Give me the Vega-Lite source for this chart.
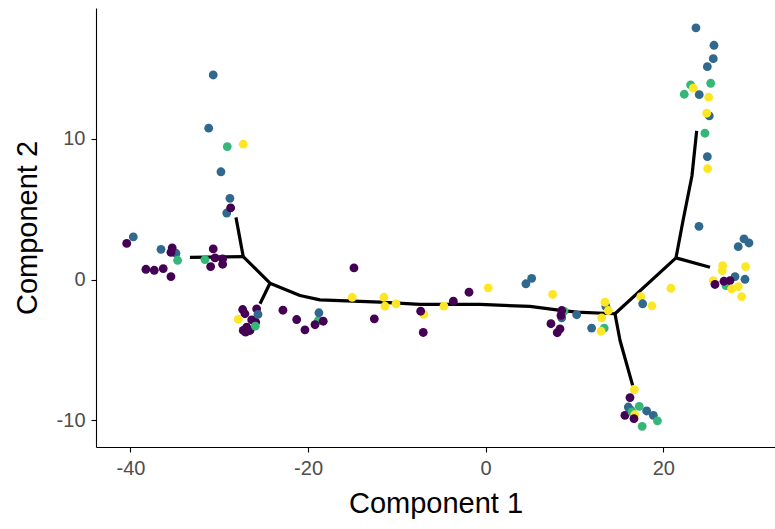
{
  "$schema": "https://vega.github.io/schema/vega-lite/v6.json",
  "autosize": {"type": "none"},
  "width": 679,
  "height": 439,
  "padding": {"left": 96, "top": 8, "right": 0, "bottom": 82},
  "config": {
    "view": {"stroke": null},
    "font": "Liberation Sans",
    "axis": {
      "grid": false,
      "domainColor": "#000000",
      "domainWidth": 1.1,
      "tickColor": "#000000",
      "tickWidth": 1.1,
      "tickSize": 5,
      "labelColor": "#4D4D4D",
      "labelFontSize": 20,
      "labelFont": "Liberation Sans",
      "titleFont": "Liberation Sans",
      "titleFontSize": 29,
      "titleFontWeight": "normal",
      "titleColor": "#000000",
      "labelExpr": "replace(datum.label, '−', '-')"
    }
  },
  "datasets": {
    "tree": [
      {"seg": "s1", "ord": 1, "x": -33.3, "y": 1.58},
      {"seg": "s1", "ord": 2, "x": -27.3, "y": 1.63},
      {"seg": "s2", "ord": 1, "x": -27.3, "y": 1.63},
      {"seg": "s2", "ord": 2, "x": -28.12, "y": 4.42},
      {"seg": "s3", "ord": 1, "x": -27.3, "y": 1.63},
      {"seg": "s3", "ord": 2, "x": -24.29, "y": -0.26},
      {"seg": "s3", "ord": 3, "x": -20.91, "y": -1.13},
      {"seg": "s3", "ord": 4, "x": -18.66, "y": -1.44},
      {"seg": "s3", "ord": 5, "x": -11.9, "y": -1.61},
      {"seg": "s3", "ord": 6, "x": -7.39, "y": -1.77},
      {"seg": "s3", "ord": 7, "x": -0.64, "y": -1.77},
      {"seg": "s3", "ord": 8, "x": 4.99, "y": -1.91},
      {"seg": "s3", "ord": 9, "x": 7.99, "y": -2.15},
      {"seg": "s3", "ord": 10, "x": 10.25, "y": -2.32},
      {"seg": "s3", "ord": 11, "x": 14.56, "y": -2.43},
      {"seg": "s3", "ord": 12, "x": 21.43, "y": 1.54},
      {"seg": "s4", "ord": 1, "x": -24.29, "y": -0.26},
      {"seg": "s4", "ord": 2, "x": -25.41, "y": -1.72},
      {"seg": "s5", "ord": 1, "x": 14.56, "y": -2.43},
      {"seg": "s5", "ord": 2, "x": 15.13, "y": -4.33},
      {"seg": "s5", "ord": 3, "x": 16.55, "y": -7.52},
      {"seg": "s6", "ord": 1, "x": 21.43, "y": 1.54},
      {"seg": "s6", "ord": 2, "x": 25.26, "y": 0.87},
      {"seg": "s7", "ord": 1, "x": 21.43, "y": 1.54},
      {"seg": "s7", "ord": 2, "x": 22.22, "y": 4.18},
      {"seg": "s7", "ord": 3, "x": 23.23, "y": 7.38},
      {"seg": "s7", "ord": 4, "x": 23.76, "y": 10.57}
    ],
    "cells": [
      {"x": -30.68, "y": 14.54, "s": "3"},
      {"x": -31.19, "y": 10.76, "s": "3"},
      {"x": -29.1, "y": 9.45, "s": "2"},
      {"x": -27.3, "y": 9.62, "s": "1"},
      {"x": -29.81, "y": 7.66, "s": "3"},
      {"x": -28.8, "y": 5.77, "s": "3"},
      {"x": -29.16, "y": 4.73, "s": "3"},
      {"x": -28.72, "y": 5.09, "s": "4"},
      {"x": -39.68, "y": 3.03, "s": "3"},
      {"x": -40.42, "y": 2.57, "s": "4"},
      {"x": -36.56, "y": 2.15, "s": "3"},
      {"x": -34.88, "y": 1.87, "s": "3"},
      {"x": -35.3, "y": 2.25, "s": "4"},
      {"x": -35.44, "y": 1.94, "s": "4"},
      {"x": -34.69, "y": 1.37, "s": "2"},
      {"x": -38.26, "y": 0.73, "s": "4"},
      {"x": -37.32, "y": 0.66, "s": "4"},
      {"x": -36.31, "y": 0.78, "s": "4"},
      {"x": -35.44, "y": 0.21, "s": "4"},
      {"x": -30.68, "y": 2.18, "s": "4"},
      {"x": -31.61, "y": 1.42, "s": "2"},
      {"x": -30.48, "y": 1.54, "s": "4"},
      {"x": -29.62, "y": 1.47, "s": "4"},
      {"x": -29.62, "y": 1.09, "s": "4"},
      {"x": -30.97, "y": 0.92, "s": "4"},
      {"x": -27.36, "y": -2.13, "s": "4"},
      {"x": -27.11, "y": -2.43, "s": "4"},
      {"x": -25.79, "y": -2.08, "s": "4"},
      {"x": -27.86, "y": -2.82, "s": "1"},
      {"x": -26.35, "y": -2.86, "s": "4"},
      {"x": -25.9, "y": -3.03, "s": "4"},
      {"x": -26.91, "y": -3.38, "s": "4"},
      {"x": -27.03, "y": -3.74, "s": "4"},
      {"x": -26.54, "y": -3.62, "s": "4"},
      {"x": -27.3, "y": -3.62, "s": "4"},
      {"x": -25.64, "y": -2.48, "s": "3"},
      {"x": -25.94, "y": -3.31, "s": "2"},
      {"x": -22.83, "y": -2.18, "s": "4"},
      {"x": -21.28, "y": -2.84, "s": "4"},
      {"x": -20.35, "y": -3.57, "s": "4"},
      {"x": -18.85, "y": -2.91, "s": "2"},
      {"x": -18.78, "y": -2.36, "s": "3"},
      {"x": -18.29, "y": -2.96, "s": "4"},
      {"x": -19.22, "y": -3.21, "s": "4"},
      {"x": -14.83, "y": 0.83, "s": "4"},
      {"x": -15.03, "y": -1.26, "s": "1"},
      {"x": -12.54, "y": -2.79, "s": "4"},
      {"x": -11.45, "y": -1.26, "s": "1"},
      {"x": -11.34, "y": -1.89, "s": "1"},
      {"x": -10.1, "y": -1.72, "s": "1"},
      {"x": -6.95, "y": -2.48, "s": "1"},
      {"x": -7.32, "y": -2.25, "s": "4"},
      {"x": -7.03, "y": -3.76, "s": "4"},
      {"x": -4.7, "y": -1.89, "s": "1"},
      {"x": -3.64, "y": -1.54, "s": "4"},
      {"x": -1.88, "y": -0.9, "s": "4"},
      {"x": 0.29, "y": -0.59, "s": "1"},
      {"x": 5.18, "y": 0.09, "s": "3"},
      {"x": 4.53, "y": -0.3, "s": "3"},
      {"x": 7.54, "y": -1.06, "s": "1"},
      {"x": 8.82, "y": -2.25, "s": "2"},
      {"x": 8.56, "y": -2.72, "s": "3"},
      {"x": 8.56, "y": -2.2, "s": "4"},
      {"x": 8.48, "y": -2.55, "s": "4"},
      {"x": 10.25, "y": -2.5, "s": "3"},
      {"x": 7.35, "y": -3.14, "s": "4"},
      {"x": 8.37, "y": -3.5, "s": "4"},
      {"x": 8.06, "y": -3.78, "s": "4"},
      {"x": 13.54, "y": -1.91, "s": "3"},
      {"x": 13.43, "y": -1.61, "s": "1"},
      {"x": 13.81, "y": -2.2, "s": "1"},
      {"x": 13.06, "y": -2.72, "s": "1"},
      {"x": 11.93, "y": -3.45, "s": "3"},
      {"x": 13.35, "y": -3.45, "s": "2"},
      {"x": 12.99, "y": -3.67, "s": "1"},
      {"x": 17.46, "y": -1.21, "s": "1"},
      {"x": 17.68, "y": -1.72, "s": "3"},
      {"x": 18.72, "y": -1.87, "s": "1"},
      {"x": 20.86, "y": -0.62, "s": "1"},
      {"x": 16.74, "y": -7.82, "s": "1"},
      {"x": 16.25, "y": -8.39, "s": "4"},
      {"x": 16.06, "y": -9.06, "s": "3"},
      {"x": 17.29, "y": -9.01, "s": "2"},
      {"x": 18.13, "y": -9.34, "s": "3"},
      {"x": 18.88, "y": -9.65, "s": "3"},
      {"x": 19.34, "y": -10.04, "s": "2"},
      {"x": 16.36, "y": -9.29, "s": "3"},
      {"x": 15.68, "y": -9.65, "s": "4"},
      {"x": 16.47, "y": -9.41, "s": "2"},
      {"x": 16.78, "y": -9.61, "s": "1"},
      {"x": 16.7, "y": -9.88, "s": "4"},
      {"x": 17.62, "y": -10.43, "s": "2"},
      {"x": 23.68, "y": 17.89, "s": "3"},
      {"x": 25.71, "y": 16.65, "s": "3"},
      {"x": 25.63, "y": 15.7, "s": "3"},
      {"x": 24.96, "y": 15.13, "s": "3"},
      {"x": 23.08, "y": 13.83, "s": "2"},
      {"x": 23.38, "y": 13.6, "s": "1"},
      {"x": 25.34, "y": 13.95, "s": "2"},
      {"x": 22.36, "y": 13.17, "s": "2"},
      {"x": 24.05, "y": 13.14, "s": "3"},
      {"x": 25.11, "y": 12.96, "s": "1"},
      {"x": 25.18, "y": 11.63, "s": "3"},
      {"x": 24.89, "y": 11.82, "s": "1"},
      {"x": 24.69, "y": 10.4, "s": "2"},
      {"x": 24.96, "y": 8.74, "s": "3"},
      {"x": 25.0, "y": 7.89, "s": "1"},
      {"x": 24.02, "y": 3.78, "s": "3"},
      {"x": 29.09, "y": 2.89, "s": "3"},
      {"x": 29.65, "y": 2.6, "s": "3"},
      {"x": 28.44, "y": 2.34, "s": "3"},
      {"x": 26.69, "y": 0.99, "s": "1"},
      {"x": 29.27, "y": 0.92, "s": "1"},
      {"x": 26.64, "y": 0.64, "s": "1"},
      {"x": 28.08, "y": 0.21, "s": "3"},
      {"x": 29.2, "y": 0.02, "s": "3"},
      {"x": 25.63, "y": -0.07, "s": "1"},
      {"x": 27.06, "y": -0.43, "s": "2"},
      {"x": 25.82, "y": -0.35, "s": "4"},
      {"x": 26.83, "y": -0.12, "s": "4"},
      {"x": 27.51, "y": -0.07, "s": "4"},
      {"x": 27.7, "y": -0.66, "s": "1"},
      {"x": 28.44, "y": -0.5, "s": "1"},
      {"x": 28.83, "y": -1.21, "s": "1"}
    ]
  },
  "layer": [
    {
      "data": {"name": "tree"},
      "mark": {"type": "line", "color": "#000000", "strokeWidth": 3.2, "strokeCap": "butt", "strokeJoin": "round"},
      "encoding": {
        "x": {"field": "x", "type": "quantitative", "scale": {"domain": [-43.88, 32.58], "nice": false, "zero": false},
              "axis": {"title": "Component 1", "values": [-40, -20, 0, 20], "labelPadding": 6, "titlePadding": 11}},
        "y": {"field": "y", "type": "quantitative", "scale": {"domain": [-11.9, 19.3], "nice": false, "zero": false},
              "axis": {"title": "Component 2", "values": [-10, 0, 10], "labelPadding": 6, "titlePadding": 14}},
        "detail": {"field": "seg", "type": "nominal"},
        "order": {"field": "ord", "type": "quantitative"}
      }
    },
    {
      "data": {"name": "cells"},
      "mark": {"type": "circle", "size": 78, "opacity": 1},
      "encoding": {
        "x": {"field": "x", "type": "quantitative"},
        "y": {"field": "y", "type": "quantitative"},
        "color": {"field": "s", "type": "nominal",
                  "scale": {"domain": ["4", "3", "2", "1"], "range": ["#440154", "#31688E", "#35B779", "#FDE725"]},
                  "legend": null}
      }
    }
  ]
}
